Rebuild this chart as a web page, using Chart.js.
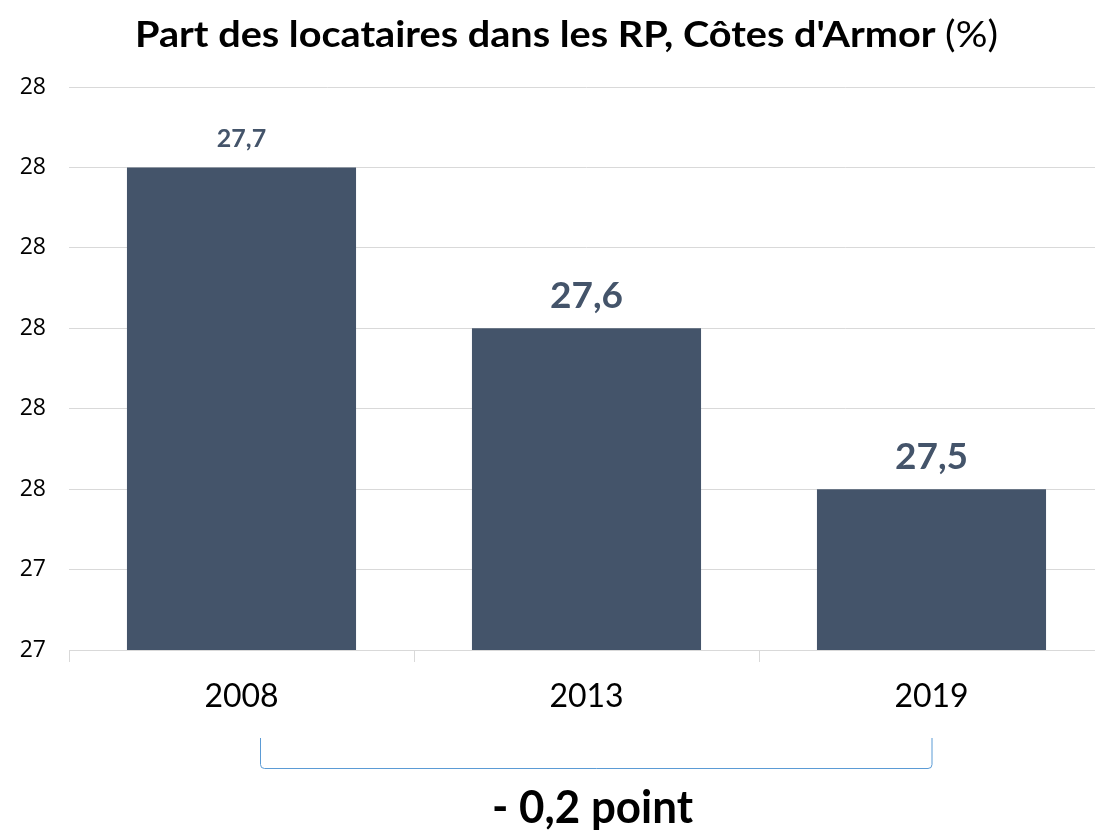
<!DOCTYPE html>
<html>
<head>
<meta charset="utf-8">
<script src="https://cdn.jsdelivr.net/npm/chart.js@4.4.0/dist/chart.umd.min.js"></script>
<style>
  html, body { margin: 0; padding: 0; background: #ffffff; overflow: hidden; }
  #wrap { width: 1132px; height: 830px; }
</style>
</head>
<body>
<div id="wrap"><canvas id="c" width="1132" height="830"></canvas></div>
<script>
// ---- data ----
const categories = ['2008', '2013', '2019'];
const values = [27.7, 27.6, 27.5];
const yMin = 27.4;
const yMax = 27.75;
const yStep = 0.05;
const titleBold = "Part des locataires dans les RP, Côtes d'Armor ";
const titleRegular = "(%)";
const changeText = "- 0,2 point";

const BAR_COLOR = '#44546a';
const GRID_COLOR = '#d9d9d9';
const FONT = "Lato, 'Open Sans', 'Liberation Sans', sans-serif";

function fmt(v) { return v.toFixed(1).replace('.', ','); }

const overlay = {
  id: 'overlay',
  afterDraw(chart) {
    const ctx = chart.ctx;
    // title
    ctx.save();
    ctx.textBaseline = 'alphabetic';
    ctx.fillStyle = '#000000';
    const size = 37;
    ctx.font = `bold ${size}px ${FONT}`;
    const wb = ctx.measureText(titleBold).width;
    ctx.font = `${size}px ${FONT}`;
    const wr = ctx.measureText(titleRegular).width;
    const left = 135, right = 998;
    const sx = (right - left) / (wb + wr);
    ctx.translate(left, 47);
    ctx.scale(sx, 1);
    ctx.textAlign = 'left';
    ctx.font = `bold ${size}px ${FONT}`;
    ctx.fillText(titleBold, 0, 0);
    ctx.font = `${size}px ${FONT}`;
    ctx.fillText(titleRegular, wb, 0);
    ctx.restore();

    // data labels
    const meta = chart.getDatasetMeta(0);
    ctx.save();
    ctx.fillStyle = BAR_COLOR;
    ctx.textAlign = 'center';
    ctx.textBaseline = 'alphabetic';
    meta.data.forEach((bar, i) => {
      const fs = i === 0 ? 25 : 37;
      ctx.font = `bold ${fs}px ${FONT}`;
      ctx.fillText(fmt(values[i]), bar.x, bar.y - 20);
    });
    ctx.restore();

    // bracket
    ctx.save();
    ctx.strokeStyle = '#5b9bd5';
    ctx.lineWidth = 1;
    const bl = 260.5, br = chart.scales.x.getPixelForValue(2) + 0.5, bt = 738, bb = 768.5, r = 4;
    ctx.beginPath();
    ctx.moveTo(bl, bt);
    ctx.lineTo(bl, bb - r);
    ctx.quadraticCurveTo(bl, bb, bl + r, bb);
    ctx.lineTo(br - r, bb);
    ctx.quadraticCurveTo(br, bb, br, bb - r);
    ctx.lineTo(br, bt);
    ctx.stroke();
    ctx.restore();

    // change text
    ctx.save();
    ctx.fillStyle = '#000000';
    ctx.font = `bold 46px ${FONT}`;
    const wc = ctx.measureText(changeText).width;
    const cl = 492, cr = 693;
    ctx.translate(cl, 823);
    ctx.scale((cr - cl) / wc, 1);
    ctx.textAlign = 'left';
    ctx.textBaseline = 'alphabetic';
    ctx.fillText(changeText, 0, 0);
    ctx.restore();
  }
};

new Chart(document.getElementById('c'), {
  type: 'bar',
  data: {
    labels: categories,
    datasets: [{
      data: values,
      backgroundColor: BAR_COLOR,
      borderWidth: 0,
      barPercentage: 0.664,
      categoryPercentage: 1.0
    }]
  },
  options: {
    responsive: false,
    animation: false,
    events: [],
    layout: { padding: { top: 87, right: 28, left: 0, bottom: 0 } },
    plugins: {
      legend: { display: false },
      title: { display: false },
      tooltip: { enabled: false }
    },
    scales: {
      x: {
        offset: true,
        grid: {
          display: true,
          offset: true,
          drawOnChartArea: false,
          drawTicks: true,
          tickLength: 12,
          color: GRID_COLOR,
          lineWidth: 1
        },
        border: { display: true, color: GRID_COLOR, width: 1 },
        ticks: {
          color: '#000000',
          font: { family: FONT, size: 32 },
          padding: 15,
          maxRotation: 0
        },
        afterFit(scale) { scale.height = 180; }
      },
      y: {
        min: yMin,
        max: yMax,
        grid: { color: GRID_COLOR, lineWidth: 1, drawTicks: false },
        border: { display: false },
        ticks: {
          stepSize: yStep,
          color: '#000000',
          font: { family: "'Open Sans', sans-serif", size: 23 },
          padding: 23,
          callback: (v) => String(Math.round(v))
        },
        afterFit(scale) { scale.width = 69; }
      }
    }
  },
  plugins: [overlay]
});
</script>
</body>
</html>
